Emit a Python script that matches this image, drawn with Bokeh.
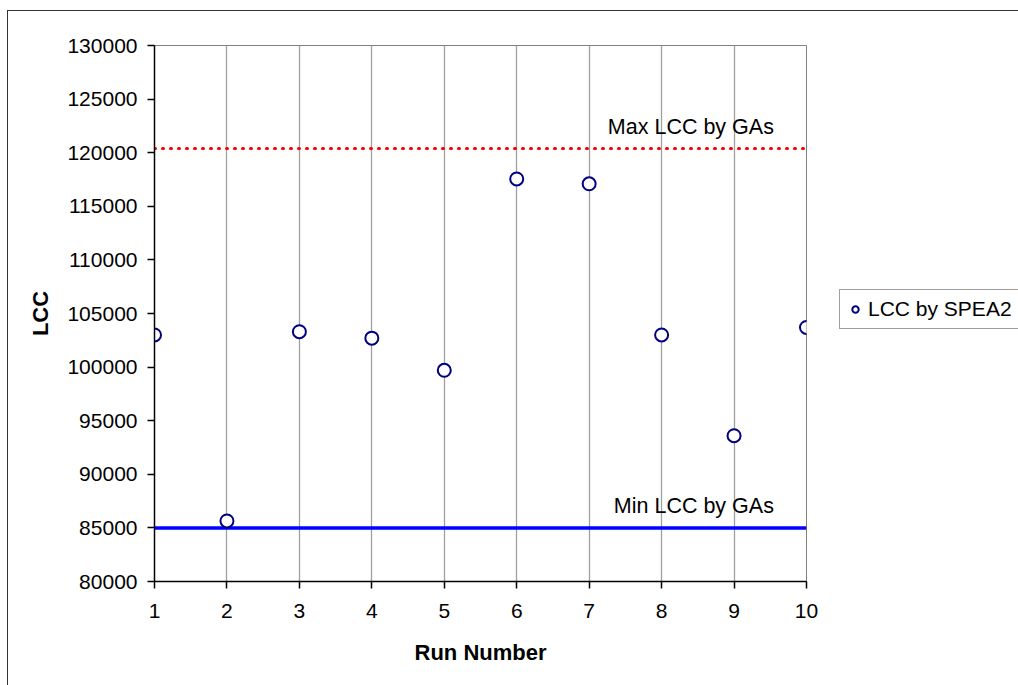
from bokeh.plotting import figure
from bokeh.models import (FixedTicker, BasicTickFormatter, Label,
                          Legend, LegendItem, Range1d, InlineStyleSheet)
from bokeh.embed import file_html
from bokeh.resources import INLINE

# ---- data ----
runs = [1, 2, 3, 4, 5, 6, 7, 8, 9, 10]
lcc_spea2 = [103000, 85650, 103300, 102700, 99700, 117550, 117100, 103000, 93600, 103700]
max_lcc_gas = 120400
min_lcc_gas = 85000
y_ticks = [80000, 85000, 90000, 95000, 100000, 105000, 110000, 115000, 120000, 125000, 130000]

FONT = "Liberation Sans"

p = figure(frame_width=652, frame_height=536, output_backend="svg", toolbar_location=None,
           x_range=Range1d(1, 10), y_range=Range1d(80000, 130000),
           min_border_left=154, min_border_right=212, min_border_top=45, min_border_bottom=104)
p.background_fill_color = "white"
p.border_fill_color = "white"
p.outline_line_color = "#808080"
p.outline_line_width = 1

# axes
p.xaxis.ticker = FixedTicker(ticks=runs)
p.yaxis.ticker = FixedTicker(ticks=y_ticks)
p.yaxis.formatter = BasicTickFormatter(use_scientific=False)
for ax in (p.xaxis[0], p.yaxis[0]):
    ax.axis_line_color = "black"
    ax.axis_line_width = 1.5
    ax.major_tick_line_color = "black"
    ax.major_tick_line_width = 1.5
    ax.major_tick_in = 0
    ax.major_tick_out = 7
    ax.minor_tick_line_color = None
    ax.major_label_text_font = FONT
    ax.major_label_text_font_size = "21px"
    ax.major_label_text_color = "black"
    ax.axis_label_text_font = FONT
    ax.axis_label_text_font_size = "22px"
    ax.axis_label_text_font_style = "bold"
    ax.axis_label_text_color = "black"
p.xaxis.axis_label = "Run Number"
p.yaxis.axis_label = "LCC"
p.xaxis.major_label_standoff = 15
p.yaxis.major_label_standoff = 10
p.xaxis.axis_label_standoff = 19
p.yaxis.axis_label_standoff = 11

# grid
p.ygrid.visible = False
p.xgrid.grid_line_color = "#a0a0a0"
p.xgrid.grid_line_width = 1.3

# reference lines
p.line(runs, [max_lcc_gas] * len(runs), line_color="#ff0000", line_width=3,
       line_dash="1 7", line_cap="round")
p.line(runs, [min_lcc_gas] * len(runs), line_color="#0000ff", line_width=3.5)

# scatter
r = p.scatter(runs, lcc_spea2, marker="circle", size=13, fill_color="white",
              line_color="#000080", line_width=2)

# labels
p.add_layout(Label(x=9.55, y=122400, text="Max LCC by GAs", text_align="right",
                   text_baseline="middle", text_font=FONT, text_font_size="21.5px",
                   text_color="black"))
p.add_layout(Label(x=9.55, y=87050, text="Min LCC by GAs", text_align="right",
                   text_baseline="middle", text_font=FONT, text_font_size="21.5px",
                   text_color="black"))

# legend (in the right side panel)
legend = Legend(items=[LegendItem(label="LCC by SPEA2", renderers=[r])],
                location=(33, 252), orientation="vertical")
legend.label_text_font = FONT
legend.label_text_font_size = "21px"
legend.label_text_color = "black"
legend.border_line_color = "#404040"
legend.border_line_width = 1.2
legend.background_fill_color = "white"
legend.background_fill_alpha = 1
legend.padding = 7
legend.margin = 0
legend.glyph_width = 16
legend.glyph_height = 20
legend.label_height = 20
legend.label_standoff = 5
p.add_layout(legend, "right")

# outer chart border (cut off at right and bottom like the reference)
p.stylesheets = [InlineStyleSheet(css="""
:host::after {
  content: "";
  position: absolute;
  left: 7px; top: 10px; right: 0; bottom: 0;
  border-left: 1.5px solid #333333;
  border-top: 1.5px solid #333333;
  pointer-events: none;
  z-index: 100;
}
""")]

open("out.html", "w").write(file_html(p, INLINE))
